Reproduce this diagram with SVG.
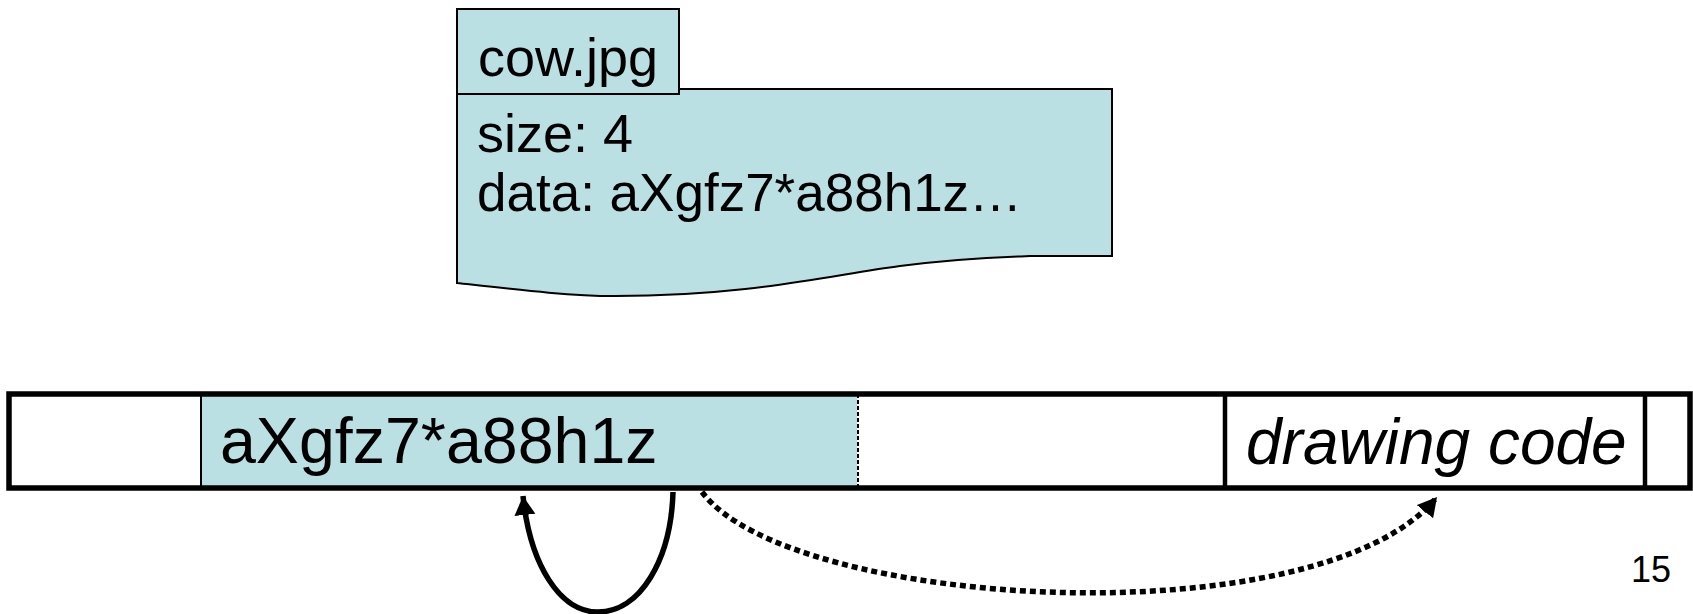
<svg xmlns="http://www.w3.org/2000/svg" width="1693" height="614" viewBox="0 0 1693 614">
<style>
.t{font-family:"Liberation Sans",Arial,sans-serif;fill:#000}
.cy{fill:#BBE0E3}
.thin{stroke:#000;stroke-width:2}
.cell{fill:none;stroke:#000;stroke-width:4.5}
.conn{fill:none;stroke:#000;stroke-width:5.5}
</style>
<defs>
<marker id="ah" markerUnits="userSpaceOnUse" markerWidth="24" markerHeight="24" refX="19" refY="10.5" orient="auto">
<path d="M0,0 L19,10.5 L0,21 Z" fill="#000"/>
</marker>
</defs>
<rect width="1693" height="614" fill="#fff"/>
<g id="file">
<path class="cy thin" d="M457,89 H1112 V256 H1030 C1000,257 960,258 900,266 C830,275 750,296 615,296 C570,296 520,290 457,283 Z"/>
<rect class="cy thin" x="457" y="9" width="222" height="85"/>
<text class="t" x="478" y="76" font-size="54">cow.jpg</text>
<text class="t" x="477" y="152" font-size="54">size: 4</text>
<text class="t" x="477" y="211" font-size="53">data: aXgfz7*a88h1z…</text>
</g>
<g id="memory">
<rect x="9" y="394" width="1681" height="94" fill="#fff"/>
<rect class="cy" x="201" y="394" width="656" height="94"/>
<line class="thin" x1="201" y1="394" x2="201" y2="488"/>
<line x1="858" y1="394" x2="858" y2="488" stroke="#000" stroke-width="2" stroke-dasharray="4 2"/>
<line class="cell" x1="1225" y1="394" x2="1225" y2="488"/>
<line class="cell" x1="1645" y1="394" x2="1645" y2="488"/>
<rect x="9" y="394" width="1681" height="94" fill="none" stroke="#000" stroke-width="5.5"/>
<text class="t" x="220" y="463" font-size="64.5">aXgfz7*a88h1z</text>
<text class="t" x="1246" y="464" font-size="64" font-style="italic">drawing code</text>
</g>
<g id="connectors">
<path class="conn" d="M673,492 C671,560 640,612 598,612 C560,612 530,565 523,496" marker-end="url(#ah)"/>
<path class="conn" stroke-dasharray="6 4" d="M702,492 C790,610 1320,640 1437,497" marker-end="url(#ah)"/>
</g>
<text class="t" x="1631" y="582" font-size="36">15</text>
</svg>
